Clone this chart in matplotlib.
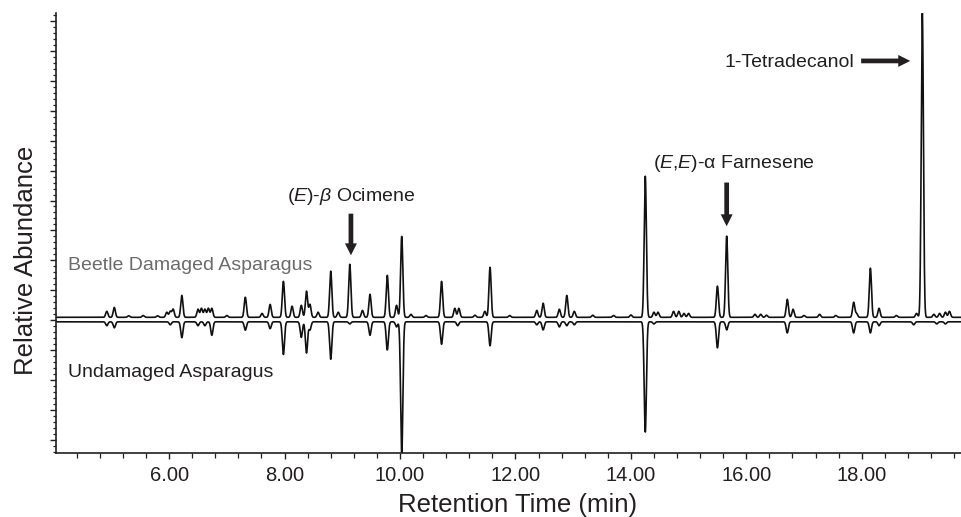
import matplotlib
matplotlib.use("Agg")
import matplotlib.pyplot as plt
import numpy as np
from matplotlib.ticker import MultipleLocator, FixedLocator

# peak retention times (min) and heights (relative abundance)
damaged_rt = [4.92, 5.05, 5.30, 5.55, 5.80, 5.96, 6.02, 6.07, 6.22, 6.50, 6.56, 6.62, 6.68,
              6.74, 7.00, 7.32, 7.61, 7.75, 7.98, 8.13, 8.29, 8.38, 8.44, 8.58, 8.80, 8.93,
              9.13, 9.35, 9.48, 9.78, 9.94, 10.03, 10.19, 10.45, 10.72, 10.95, 11.02, 11.30,
              11.47, 11.56, 11.90, 12.37, 12.48, 12.76, 12.89, 13.02, 13.34, 13.70, 14.00,
              14.25, 14.40, 14.47, 14.74, 14.83, 14.92, 15.00, 15.50, 15.66, 16.15, 16.25,
              16.35, 16.71, 16.81, 17.00, 17.27, 17.55, 17.86, 17.91, 18.15, 18.30, 18.60,
              18.95, 19.05, 19.25, 19.35, 19.45, 19.52]
damaged_height = [2.0, 3.3, 0.5, 0.6, 0.5, 1.7, 2.0, 2.7, 7.3, 2.7, 3.0, 2.7, 3.0,
                  3.0, 0.6, 6.7, 1.3, 4.3, 12.0, 3.7, 4.0, 8.7, 4.3, 1.7, 15.4, 1.7,
                  17.7, 2.3, 7.7, 14.0, 4.0, 27.0, 1.0, 0.6, 12.0, 3.0, 3.0, 0.7,
                  2.0, 16.7, 0.6, 2.3, 4.7, 2.7, 7.3, 2.0, 0.7, 0.6, 0.8,
                  47.1, 1.7, 1.7, 2.0, 2.0, 1.3, 1.3, 10.4, 27.1, 1.0, 1.0,
                  0.7, 6.0, 2.7, 0.6, 1.0, 0.6, 5.0, 1.3, 16.4, 3.0, 0.6,
                  1.3, 101.5, 1.0, 1.3, 1.7, 2.0]

undamaged_rt = [4.92, 5.05, 6.02, 6.22, 6.50, 6.62, 6.74, 7.32, 7.75, 7.98, 8.29, 8.38,
                8.44, 8.80, 9.13, 9.48, 9.78, 9.94, 10.03, 10.72, 11.00, 11.56, 12.37,
                12.48, 12.76, 12.89, 13.02, 14.25, 14.40, 15.50, 15.66, 16.71, 17.86,
                18.15, 18.30, 18.90, 19.30, 19.45]
undamaged_depth = [1.3, 2.0, 1.0, 5.3, 1.3, 1.3, 4.5, 2.8, 2.3, 10.9, 5.2, 10.4,
                   2.7, 12.5, 0.7, 4.5, 9.4, 1.7, 45.0, 7.5, 1.3, 8.0, 1.0,
                   2.7, 1.7, 1.3, 1.0, 36.8, 0.7, 8.7, 2.7, 3.7, 3.7,
                   3.7, 1.3, 1.0, 0.7, 0.7]

x_major = [6, 8, 10, 12, 14, 16, 18]
x_labels = ["6.00", "8.00", "10.00", "12.00", "14.00", "16.00", "18.00"]

TEXT = "#231f20"
GREY = "#6b6b6b"

plt.rcParams.update({
    "font.family": ["Liberation Sans", "DejaVu Sans"],
    "mathtext.fontset": "custom",
    "mathtext.rm": "Liberation Sans",
    "mathtext.it": "Liberation Sans:italic",
    "text.color": TEXT,
})


def trace(t, rts, heights, sigma=0.019):
    y = np.zeros_like(t)
    for rt, h in zip(rts, heights):
        y += h * np.exp(-0.5 * ((t - rt) / sigma) ** 2)
    return y


fig = plt.figure(figsize=(9.61, 5.17), dpi=100)
ax = fig.add_axes([56 / 961, 64 / 517, 905 / 961, 440 / 517])

t = np.arange(4.04, 19.72, 0.002)
upper = 1.0 + trace(t, damaged_rt, damaged_height)
lower = -0.5 - trace(t, undamaged_rt, undamaged_depth)
ax.plot(t, upper, color="#111111", lw=1.2)
ax.plot(t, lower, color="#111111", lw=1.2)

ax.set_xlim(4.04, 19.72)
ax.set_ylim(-44.3, 102.6)
for side in ["top", "right"]:
    ax.spines[side].set_visible(False)
for side in ["left", "bottom"]:
    ax.spines[side].set_linewidth(1.2)
    ax.spines[side].set_color(TEXT)

ax.xaxis.set_major_locator(FixedLocator(x_major))
ax.set_xticklabels(x_labels, fontsize=14.5, color=TEXT)
ax.xaxis.set_minor_locator(MultipleLocator(0.4))
ax.yaxis.set_major_locator(MultipleLocator(10))
ax.yaxis.set_minor_locator(MultipleLocator(2))
ax.tick_params(axis="x", which="major", direction="out", length=4.5, width=1.0, pad=5, color=TEXT)
ax.tick_params(axis="x", which="minor", direction="out", length=3.5, width=0.9, color=TEXT)
ax.tick_params(axis="y", which="major", direction="out", length=4.3, width=1.0, labelleft=False, color=TEXT)
ax.tick_params(axis="y", which="minor", direction="out", length=2.4, width=0.9, color=TEXT)

fig.text(518 / 961, 1 - 511.7 / 517, "Retention Time (min)", fontsize=18.5,
         ha="center", va="baseline")
fig.text(33 / 961, 1 - 260 / 517, "Relative Abundance", fontsize=18.5, rotation=90,
         rotation_mode="anchor", ha="center", va="baseline")

ax.text(4.25, 16.9, "Beetle Damaged Asparagus", fontsize=14, color=GREY, va="baseline")
ax.text(4.25, -18.9, "Undamaged Asparagus", fontsize=14, color=TEXT, va="baseline")

ax.text(9.15, 40.0, r"($\mathit{E}$)-$\mathit{\beta}$ Ocimene", fontsize=14, ha="center", va="baseline")
ax.text(15.79, 51.0, r"($\mathit{E}$,$\mathit{E}$)-α Farnesene", fontsize=14, ha="center", va="baseline")
ax.text(15.63, 84.6, "1-Tetradecanol", fontsize=14, ha="left", va="baseline")

arrow = dict(arrowstyle="simple,head_length=0.86,head_width=0.86,tail_width=0.34",
             mutation_scale=10, color=TEXT, lw=0, shrinkA=0, shrinkB=0)
ax.annotate("", xy=(9.15, 21.7), xytext=(9.15, 35.6), arrowprops=arrow)
ax.annotate("", xy=(15.66, 31.4), xytext=(15.66, 46.0), arrowprops=arrow)
ax.annotate("", xy=(18.84, 86.6), xytext=(17.99, 86.6), arrowprops=arrow)

fig.savefig("out.png", dpi=100)
